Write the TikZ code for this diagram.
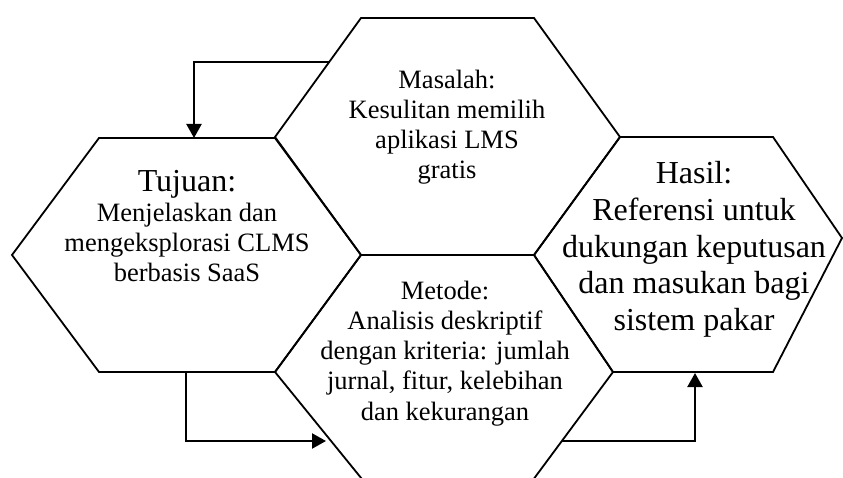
\documentclass[tikz,border=0pt]{standalone}
\usepackage{fontspec}
\setmainfont{Liberation Serif}
\usetikzlibrary{arrows.meta}
\tikzset{
  hexline/.style={draw=black, line width=1.8pt, line join=miter},
  flow/.style={draw=black, line width=2.2pt, -{Triangle[length=14pt,width=15pt]}},
  bodytxt/.style={align=center, inner sep=0pt, anchor=base, font=\fontsize{26.5}{30.2}\selectfont},
  bigtxt/.style={align=center, inner sep=0pt, anchor=base, font=\fontsize{32}{36.5}\selectfont},
}
\begin{document}
\begin{tikzpicture}[x=1pt,y=-1pt]
\useasboundingbox (0,0) rectangle (843,478);
\clip (0,0) rectangle (843,478);
% Masalah
\draw[hexline] (275,137) -- (361,18) -- (534,18) -- (620,137) -- (534,255) -- (361,255) -- cycle;
% Tujuan
\draw[hexline] (12,255) -- (99,138) -- (275,138) -- (361,255) -- (275,372) -- (99,372) -- cycle;
% Metode
\draw[hexline] (275,372) -- (361,255) -- (534,255) -- (613,372) -- (530,484) -- (366,484) -- cycle;
% Hasil
\draw[hexline] (534,255) -- (620,137) -- (773,137) -- (842,238) -- (773,372) -- (613,372) -- cycle;

% connector anchors
\coordinate (masL) at (329,62);
\coordinate (tujTop) at (194,138);
\coordinate (tujBot) at (186,372);
\coordinate (metL) at (326,441);
\coordinate (metR) at (562,441);
\coordinate (hasBot) at (695,373);

\draw[flow] (masL) -| (tujTop);
\draw[flow] (tujBot) |- (metL);
\draw[flow] (metR) -| (hasBot);

% texts (anchor=base is the baseline of the last line)
\node[bodytxt] (tmas) at (447,179) {Masalah:\\Kesulitan memilih\\aplikasi LMS\\gratis};
\node[bigtxt] (ttujh) at (187,192) {Tujuan:};
\node[bodytxt] (ttujb) at (187,282) {Menjelaskan dan\\mengeksplorasi CLMS\\berbasis SaaS};
\node[bodytxt] (tmet) at (445,420) {Metode:\\Analisis deskriptif\\dengan kriteria: jumlah\\jurnal, fitur, kelebihan\\dan kekurangan};
\node[bigtxt] (thas) at (694,330) {Hasil:\\Referensi untuk\\dukungan keputusan\\dan masukan bagi\\sistem pakar};
\end{tikzpicture}
\end{document}
